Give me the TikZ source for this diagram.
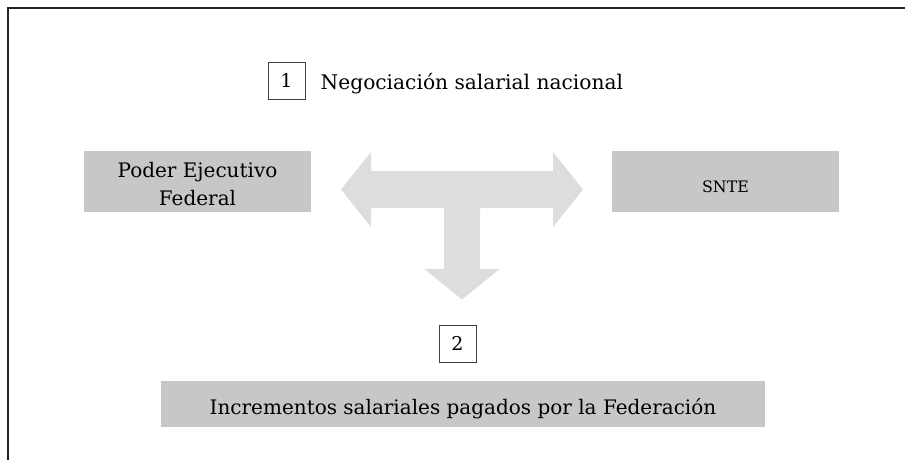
\documentclass[tikz,border=0pt]{standalone}
\usepackage{fontspec}
\setmainfont{DejaVu Serif}
\definecolor{boxgray}{RGB}{198,199,201}
\definecolor{arrowgray}{RGB}{220,221,223}
\definecolor{framec}{RGB}{35,35,35}
\tikzset{
  graybox/.style={fill=boxgray, draw=none, inner sep=0pt, align=center, font=\fontsize{20}{28}\selectfont},
  numbox/.style={draw=black!75, line width=0.9pt, fill=white, minimum width=37pt, minimum height=37pt, inner sep=0pt, font=\fontsize{19}{20}\selectfont},
  plaintext/.style={inner sep=0pt, font=\fontsize{20.2}{24}\selectfont}
}
\begin{document}
\begin{tikzpicture}[x=1pt,y=-1pt]
\useasboundingbox (0,0) rectangle (905,460);
% frame
\draw[framec, line width=1.6pt] (8,460) -- (8,8) -- (905,8);
% step 1
\node[numbox] (n1) at (286.5,80.5) {1};
\node[plaintext, anchor=base west] (t1) at (320.5,89) {Negociación salarial nacional};
% boxes
\node[graybox, minimum width=227pt, minimum height=61pt] (pef) at (197.5,181.5) {\rule{0pt}{20pt}Poder Ejecutivo\\Federal};
\node[graybox, minimum width=227pt, minimum height=61pt, text height=21pt, text depth=0pt, font=\fontsize{15.8}{18}\selectfont] (snte) at (725.5,181.5) {SNTE};
% arrow
\fill[arrowgray] (341,189.5) -- (371,152) -- (371,171) -- (553,171) -- (553,152) -- (583,189.5)
  -- (553,227) -- (553,208) -- (480,208) -- (480,269) -- (499.5,269) -- (462,299.5)
  -- (424.5,269) -- (444,269) -- (444,208) -- (371,208) -- (371,227) -- cycle;
% step 2
\node[numbox] (n2) at (457.5,343.5) {2};
\node[graybox, minimum width=604pt, minimum height=46pt, text height=22pt, text depth=0pt] (inc) at (463,403.5) {Incrementos salariales pagados por la Federación};
\end{tikzpicture}
\end{document}
